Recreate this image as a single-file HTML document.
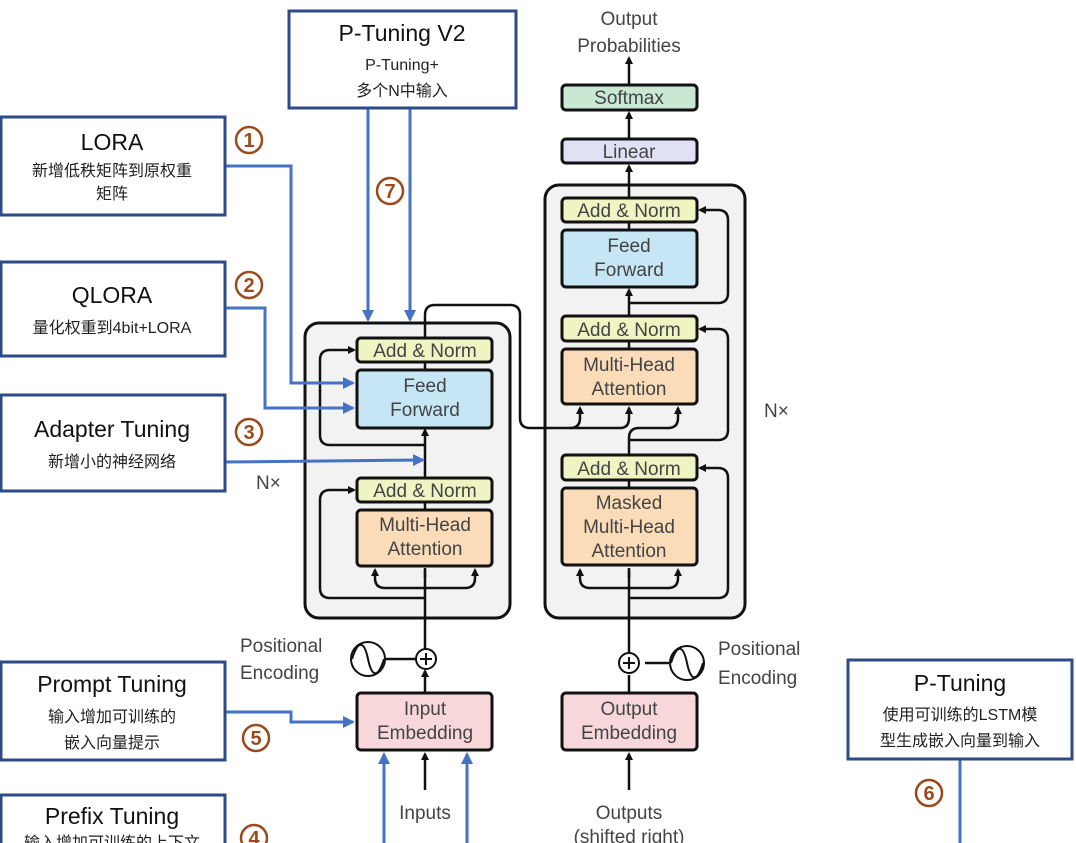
<!DOCTYPE html>
<html><head><meta charset="utf-8"><style>
html,body{margin:0;padding:0;background:#fff;width:1076px;height:843px;overflow:hidden}
svg{display:block}
text{font-family:"Liberation Sans","Noto Sans CJK SC",sans-serif}
.g{fill:#444;font-size:19px}
.cn{fill:#222;font-size:16px}
.ti{fill:#111;font-size:23px}
.num{fill:#9b4a1c;font-size:20px;font-weight:bold}
</style></head><body>
<svg width="1076" height="843" viewBox="0 0 1076 843" xmlns="http://www.w3.org/2000/svg">
<defs>
<marker id="ak" markerWidth="8" markerHeight="8" refX="6" refY="4" orient="auto" markerUnits="userSpaceOnUse"><path d="M0,0 L8,4 L0,8 z" fill="#111"/></marker>
<marker id="ab" markerWidth="12" markerHeight="12" refX="10" refY="6" orient="auto" markerUnits="userSpaceOnUse"><path d="M0,0 L12,6 L0,12 z" fill="#4472c4"/></marker>
</defs>

<!-- encoder/decoder blocks -->
<rect x="305" y="323" width="205" height="295" rx="14" fill="#f2f2f2" stroke="#111" stroke-width="3"/>
<rect x="545" y="185" width="200" height="433" rx="14" fill="#f2f2f2" stroke="#111" stroke-width="3"/>

<g stroke="#111" stroke-width="2.5" fill="none">
<!-- encoder main path -->
<line x1="425" y1="790" x2="425" y2="754" marker-end="url(#ak)"/>
<line x1="425" y1="693" x2="425" y2="671" marker-end="url(#ak)"/>
<line x1="425" y1="649" x2="425" y2="568"/>
<line x1="425" y1="502" x2="425" y2="510"/>
<line x1="425" y1="478" x2="425" y2="430" marker-end="url(#ak)"/>
<line x1="425" y1="362" x2="425" y2="370"/>
<line x1="384" y1="659" x2="416" y2="659"/>
<!-- MHA input forks -->
<path d="M425,588 L385,588 Q375,588 375,578 L375,570" marker-end="url(#ak)"/>
<path d="M425,588 L465,588 Q475,588 475,578 L475,570" marker-end="url(#ak)"/>
<line x1="425" y1="578" x2="425" y2="570"/>
<!-- residuals -->
<path d="M425,598 L330,598 Q320,598 320,588 L320,500 Q320,490 330,490 L354,490" marker-end="url(#ak)"/>
<path d="M425,445 L330,445 Q320,445 320,435 L320,360 Q320,350 330,350 L354,350" marker-end="url(#ak)"/>
<!-- cross from encoder -->
<path d="M425,338 L425,315 Q425,305 435,305 L510,305 Q520,305 520,315 L520,418 Q520,428 530,428 L570,428 Q580,428 580,418 L580,408" marker-end="url(#ak)"/>
<path d="M570,428 L620,428 Q629,428 629,418 L629,408" marker-end="url(#ak)"/>

<!-- decoder main path -->
<line x1="629" y1="790" x2="629" y2="754" marker-end="url(#ak)"/>
<line x1="629" y1="693" x2="629" y2="675"/>
<line x1="629" y1="653" x2="629" y2="568"/>
<line x1="645" y1="663" x2="669" y2="663"/>
<path d="M629,588 L590,588 Q580,588 580,578 L580,570" marker-end="url(#ak)"/>
<path d="M629,588 L668,588 Q678,588 678,578 L678,570" marker-end="url(#ak)"/>
<line x1="629" y1="578" x2="629" y2="570"/>
<line x1="629" y1="480" x2="629" y2="488"/>
<path d="M629,455 L629,438 Q629,428 639,428 L668,428 Q678,428 678,418 L678,408" marker-end="url(#ak)"/>
<line x1="629" y1="341" x2="629" y2="349"/>
<line x1="629" y1="316" x2="629" y2="290" marker-end="url(#ak)"/>
<line x1="629" y1="222" x2="629" y2="230"/>
<line x1="629" y1="198" x2="629" y2="166" marker-end="url(#ak)"/>
<line x1="629" y1="139" x2="629" y2="113" marker-end="url(#ak)"/>
<line x1="629" y1="85" x2="629" y2="58" marker-end="url(#ak)"/>
<path d="M629,598 L718,598 Q728,598 728,588 L728,478 Q728,468 718,468 L700,468" marker-end="url(#ak)"/>
<path d="M629,440 L718,440 Q728,440 728,430 L728,339 Q728,329 718,329 L700,329" marker-end="url(#ak)"/>
<path d="M629,303 L718,303 Q728,303 728,293 L728,220 Q728,210 718,210 L700,210" marker-end="url(#ak)"/>
</g>

<!-- component boxes -->
<g stroke="#111" stroke-width="3">
<rect x="357" y="338" width="135" height="24" rx="4" fill="#f0f4c3"/>
<rect x="357" y="370" width="135" height="58" rx="4" fill="#c6e6f5"/>
<rect x="357" y="478" width="135" height="24" rx="4" fill="#f0f4c3"/>
<rect x="357" y="510" width="135" height="56" rx="4" fill="#fbdcb9"/>
<rect x="562" y="198" width="135" height="24" rx="4" fill="#f0f4c3"/>
<rect x="562" y="230" width="135" height="57" rx="4" fill="#c6e6f5"/>
<rect x="562" y="316" width="135" height="25" rx="4" fill="#f0f4c3"/>
<rect x="562" y="349" width="135" height="55" rx="4" fill="#fbdcb9"/>
<rect x="562" y="455" width="135" height="25" rx="4" fill="#f0f4c3"/>
<rect x="562" y="488" width="135" height="77" rx="4" fill="#fbdcb9"/>
<rect x="562" y="139" width="135" height="24" rx="4" fill="#e1e1f5"/>
<rect x="562" y="85" width="135" height="25" rx="4" fill="#c9e8d3"/>
<rect x="357" y="693" width="135" height="57" rx="4" fill="#f8d7da"/>
<rect x="562" y="693" width="135" height="57" rx="4" fill="#f8d7da"/>
</g>
<!-- positional encodings -->
<g stroke="#111" stroke-width="2" fill="#fff">
<circle cx="368" cy="659" r="17"/><circle cx="426" cy="659" r="10"/>
<circle cx="687" cy="663" r="17"/><circle cx="629" cy="663" r="10"/>
</g>
<g stroke="#111" stroke-width="2" fill="none">
<path d="M352,659 C358,640 364,640 368,659 C372,678 378,678 384,659"/>
<path d="M671,663 C677,644 683,644 687,663 C691,682 697,682 703,663"/>
<path d="M420,659 h12 M426,653 v12 M623,663 h12 M629,657 v12"/>
</g>

<g class="g" text-anchor="middle">
<text x="425" y="357">Add &amp; Norm</text>
<text x="425" y="392">Feed</text><text x="425" y="416">Forward</text>
<text x="425" y="497">Add &amp; Norm</text>
<text x="425" y="531">Multi-Head</text><text x="425" y="555">Attention</text>
<text x="629" y="217">Add &amp; Norm</text>
<text x="629" y="252">Feed</text><text x="629" y="276">Forward</text>
<text x="629" y="336">Add &amp; Norm</text>
<text x="629" y="371">Multi-Head</text><text x="629" y="395">Attention</text>
<text x="629" y="475">Add &amp; Norm</text>
<text x="629" y="509">Masked</text><text x="629" y="533">Multi-Head</text><text x="629" y="557">Attention</text>
<text x="629" y="158">Linear</text>
<text x="629" y="104">Softmax</text>
<text x="629" y="25">Output</text><text x="629" y="52">Probabilities</text>
<text x="425" y="715">Input</text><text x="425" y="739">Embedding</text>
<text x="629" y="715">Output</text><text x="629" y="739">Embedding</text>
<text x="425" y="819">Inputs</text>
<text x="629" y="819">Outputs</text><text x="629" y="843">(shifted right)</text>
</g>
<g class="g">
<text x="240" y="652">Positional</text><text x="240" y="679">Encoding</text>
<text x="718" y="655">Positional</text><text x="718" y="684">Encoding</text>
<text x="256" y="489">N×</text><text x="764" y="417">N×</text>
</g>

<!-- blue connectors -->
<g stroke="#4472c4" stroke-width="3" fill="none">
<path d="M225,166 L291,166 L291,383 L353,383" marker-end="url(#ab)"/>
<path d="M225,308 L265,308 L265,408 L353,408" marker-end="url(#ab)"/>
<path d="M225,462 L423,460" marker-end="url(#ab)"/>
<path d="M368,108 L368,320" marker-end="url(#ab)"/>
<path d="M410,108 L410,320" marker-end="url(#ab)"/>
<path d="M225,712 L291,712 L291,722 L353,722" marker-end="url(#ab)"/>
<path d="M384,843 L384,754" marker-end="url(#ab)"/>
<path d="M467,843 L467,754" marker-end="url(#ab)"/>
<path d="M960,759 L960,843"/>
</g>

<!-- label boxes -->
<g fill="#fff" stroke="#2e4a87" stroke-width="3">
<rect x="1" y="117" width="224" height="98"/>
<rect x="1" y="262" width="224" height="94"/>
<rect x="1" y="395" width="224" height="96"/>
<rect x="1" y="662" width="224" height="98"/>
<rect x="1" y="795" width="224" height="60"/>
<rect x="289" y="11" width="227" height="97"/>
<rect x="848" y="660" width="224" height="99"/>
</g>
<g text-anchor="middle">
<text class="ti" x="112" y="150">LORA</text>
<text class="cn" x="112" y="176">新增低秩矩阵到原权重</text>
<text class="cn" x="112" y="199">矩阵</text>
<text class="ti" x="112" y="303">QLORA</text>
<text class="cn" x="112" y="333">量化权重到4bit+LORA</text>
<text class="ti" x="112" y="437">Adapter Tuning</text>
<text class="cn" x="112" y="467">新增小的神经网络</text>
<text class="ti" x="112" y="692">Prompt Tuning</text>
<text class="cn" x="112" y="722">输入增加可训练的</text>
<text class="cn" x="112" y="748">嵌入向量提示</text>
<text class="ti" x="112" y="824">Prefix Tuning</text>
<text class="cn" x="112" y="848">输入增加可训练的上下文</text>
<text class="ti" x="402" y="41">P-Tuning V2</text>
<text class="cn" x="402" y="70">P-Tuning+</text>
<text class="cn" x="402" y="96">多个N中输入</text>
<text class="ti" x="960" y="691">P-Tuning</text>
<text class="cn" x="960" y="720">使用可训练的LSTM模</text>
<text class="cn" x="960" y="746">型生成嵌入向量到输入</text>
</g>
<g fill="none" stroke="#9b4a1c" stroke-width="2.5">
<circle cx="249" cy="140" r="13"/><circle cx="249" cy="285" r="13"/><circle cx="249" cy="432" r="13"/>
<circle cx="256" cy="738" r="13"/><circle cx="254" cy="838" r="13"/><circle cx="390" cy="191" r="13"/>
<circle cx="929" cy="793" r="13"/>
</g>
<g class="num" text-anchor="middle">
<text x="249" y="147">1</text><text x="249" y="292">2</text><text x="249" y="439">3</text>
<text x="256" y="745">5</text><text x="254" y="845">4</text><text x="390" y="198">7</text>
<text x="929" y="800">6</text>
</g>
</svg>
</body></html>
